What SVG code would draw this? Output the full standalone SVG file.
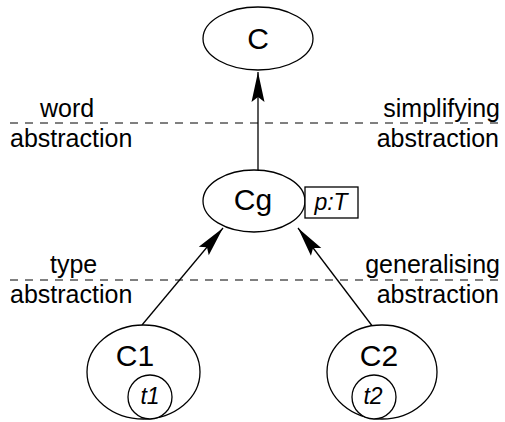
<svg xmlns="http://www.w3.org/2000/svg" width="505" height="422" viewBox="0 0 505 422">
<style>
.n{fill:#fff;stroke:#000;stroke-width:1.3}
.c{fill:none;stroke:#000;stroke-width:1.3}
.d{fill:none;stroke:#000;stroke-width:1;stroke-dasharray:8 7}
.t{font-family:"Liberation Sans",Arial,sans-serif;fill:#000}
.big{font-size:30px;text-anchor:middle}
.lab{font-size:25px}
.it{font-style:italic;text-anchor:middle}
</style>
<defs>
<marker id="ah" markerUnits="userSpaceOnUse" markerWidth="32" markerHeight="16" viewBox="-31 -8 32 16" refX="0" refY="0" orient="auto">
<path d="M0,0 L-30,-6.5 L-25,0 L-30,6.5 z" fill="#000"/>
</marker>
</defs>
<g id="separators">
<line class="d" x1="10" y1="123" x2="500" y2="123"/>
<line class="d" x1="10" y1="280" x2="500" y2="280"/>
</g>
<g id="labels">
<text class="t lab" x="40" y="117">word</text>
<text class="t lab" x="10" y="147">abstraction</text>
<text class="t lab" x="500" y="117" text-anchor="end">simplifying</text>
<text class="t lab" x="499" y="147" text-anchor="end">abstraction</text>
<text class="t lab" x="50" y="273">type</text>
<text class="t lab" x="10" y="303">abstraction</text>
<text class="t lab" x="500" y="273" text-anchor="end">generalising</text>
<text class="t lab" x="499" y="303" text-anchor="end">abstraction</text>
</g>
<g id="connectors">
<line class="c" x1="258" y1="170" x2="258" y2="72" marker-end="url(#ah)"/>
<line class="c" x1="142" y1="325" x2="223" y2="228" marker-end="url(#ah)"/>
<line class="c" x1="373" y1="327" x2="298" y2="228" marker-end="url(#ah)"/>
</g>
<g id="node-C">
<ellipse class="n" cx="258" cy="38.5" rx="55" ry="31.5"/>
<text class="t big" x="258" y="49">C</text>
</g>
<g id="node-Cg">
<ellipse class="n" cx="254" cy="201" rx="51" ry="31"/>
<text class="t big" x="253" y="210">Cg</text>
<rect class="n" x="305" y="187" width="53" height="31"/>
<text class="t it" x="331" y="210" font-size="23">p:T</text>
</g>
<g id="node-C1">
<ellipse class="n" cx="143.5" cy="372" rx="56.5" ry="47"/>
<text class="t big" x="135" y="366">C1</text>
<circle class="n" cx="150" cy="397" r="22"/>
<text class="t it" x="150" y="404" font-size="23">t1</text>
</g>
<g id="node-C2">
<ellipse class="n" cx="382" cy="372" rx="55" ry="47"/>
<text class="t big" x="379" y="366">C2</text>
<circle class="n" cx="374" cy="397" r="22"/>
<text class="t it" x="373" y="404" font-size="23">t2</text>
</g>
</svg>
